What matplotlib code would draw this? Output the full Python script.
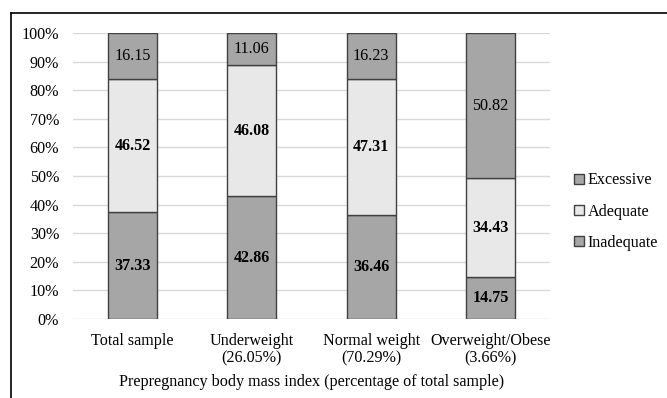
import matplotlib.pyplot as plt
from matplotlib.lines import Line2D
import numpy as np

categories = ['Total sample', 'Underweight\n(26.05%)', 'Normal weight\n(70.29%)', 'Overweight/Obese\n(3.66%)']
inadequate = [37.33, 42.86, 36.46, 14.75]
adequate = [46.52, 46.08, 47.31, 34.43]
excessive = [16.15, 11.06, 16.23, 50.82]

plt.rcParams['font.family'] = ['Liberation Serif', 'DejaVu Serif']
fs = 11.6

fig = plt.figure(figsize=(6.67, 3.98), dpi=100)
ax = fig.add_axes([73 / 667, 1 - 319 / 398, (550 - 73) / 667, (319 - 33) / 398])

x = np.arange(len(categories))
w = 0.41
edge = '#404040'
b1 = ax.bar(x, inadequate, w, color='#a6a6a6', edgecolor=edge, linewidth=1, label='Inadequate', zorder=3)
b2 = ax.bar(x, adequate, w, bottom=inadequate, color='#e8e8e8', edgecolor=edge, linewidth=1, label='Adequate', zorder=3)
bottom2 = [a + b for a, b in zip(inadequate, adequate)]
b3 = ax.bar(x, excessive, w, bottom=bottom2, color='#a6a6a6', edgecolor=edge, linewidth=1, label='Excessive', zorder=3)

for i in range(len(x)):
    ax.text(x[i], inadequate[i] / 2, '%.2f' % inadequate[i], ha='center', va='center', fontsize=fs, fontweight='bold', zorder=4)
    ax.text(x[i], inadequate[i] + adequate[i] / 2, '%.2f' % adequate[i], ha='center', va='center', fontsize=fs, fontweight='bold', zorder=4)
    ax.text(x[i], bottom2[i] + excessive[i] / 2, '%.2f' % excessive[i], ha='center', va='center', fontsize=fs, zorder=4)

ax.set_xlim(-0.5, 3.5)
ax.set_ylim(0, 100)
ax.set_yticks(range(0, 101, 10))
ax.set_yticklabels(['%d%%' % v for v in range(0, 101, 10)], fontsize=fs)
ax.set_xticks(x)
ax.set_xticklabels(categories, fontsize=fs, linespacing=1.15)
ax.tick_params(axis='y', length=0, pad=10)
ax.tick_params(axis='x', length=0, pad=10)
ax.grid(axis='y', color='#d9d9d9', linewidth=1, zorder=0)
for s in ax.spines.values():
    s.set_visible(False)
ax.set_xlabel('Prepregnancy body mass index (percentage of total sample)', fontsize=fs, labelpad=5)

leg = ax.legend(handles=[b3, b2, b1], loc='center left', bbox_to_anchor=(1.02, 0.375), frameon=False,
                fontsize=fs, handlelength=0.6, handleheight=0.6, handletextpad=0.25, labelspacing=0.95)

# outer frame (cut at right/bottom)
fig.add_artist(Line2D([11 / 667, 11 / 667], [0, 1 - 13 / 398], color='black', linewidth=1.2))
fig.add_artist(Line2D([11 / 667, 1], [1 - 13 / 398, 1 - 13 / 398], color='black', linewidth=1.2))

fig.savefig('out.png', dpi=100)
